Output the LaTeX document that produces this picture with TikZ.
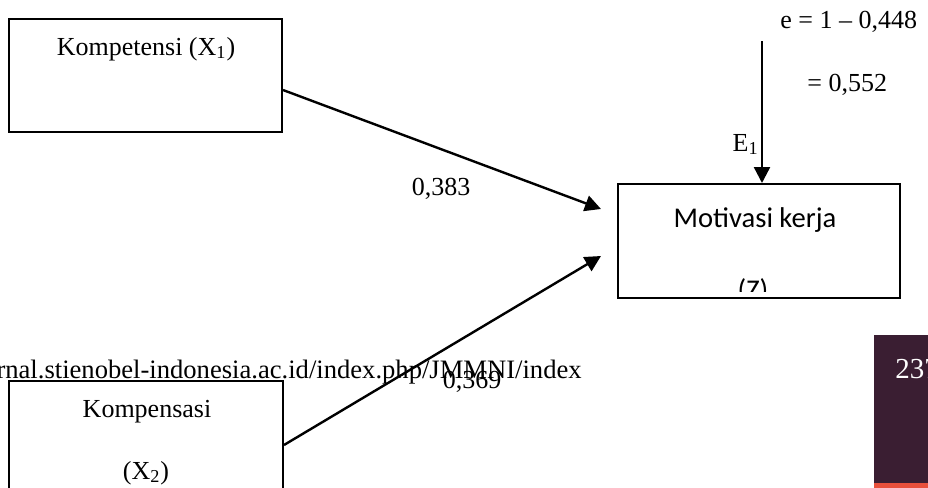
\documentclass[tikz,border=0pt]{standalone}
\usepackage{fontspec}
\setmainfont{Liberation Serif}
\newfontfamily\calib{Carlito}
\usetikzlibrary{arrows.meta,calc}
\definecolor{pagebar}{RGB}{58,30,50}
\definecolor{pagered}{RGB}{232,80,60}
\begin{document}
\begin{tikzpicture}[x=0.5pt,y=-0.5pt,
  box/.style={draw,line width=1pt,inner sep=0pt,rectangle},
  txt/.style={inner sep=0pt,anchor=base,font=\fontsize{13}{15}\selectfont},
  mtxt/.style={inner sep=0pt,anchor=base,font=\calib\fontsize{14.3}{17}\selectfont},
  arr/.style={line width=1.2pt,-{Triangle[length=8pt,width=8pt]}}]
\useasboundingbox (0,0) rectangle (928,488);
\begin{scope}
\clip (0,0) rectangle (928,488);
% boxes
\node[box,minimum width=136.5pt,minimum height=56.5pt] (k1) at (145.5,75.5) {};
\node[box,minimum width=141pt,minimum height=57pt] (mot) at (759,241) {};
\node[box,minimum width=137pt,minimum height=89pt] (k2) at (146,470) {};
% box texts
\node[txt] (k1lab) at (146,55) {Kompetensi (X\textsubscript{1})};
\node[mtxt] (motlab) at (755,227) {Motivasi kerja};
\begin{scope}
\clip (619,185) rectangle (899,291);
\node[mtxt] (zlab) at (753,299) {(Z)};
\end{scope}
\node[txt] (k2lab) at (147,417) {Kompensasi};
\node[txt] (x2lab) at (146,479) {(X\textsubscript{2})};
% footer
\node[txt,anchor=base east,font=\fontsize{13.3}{15}\selectfont] (url) at (582,378) {journal.stienobel-indonesia.ac.id/index.php/JMMNI/index};
\fill[pagebar] (874,335) rectangle (928,483);
\fill[pagered] (874,483) rectangle (928,488);
\node[inner sep=0pt,anchor=base west,text=white,font=\fontsize{14.5}{17}\selectfont] (pnum) at (895,378) {237};
% connectors
\coordinate (t1) at ($(mot.west)+(-16,-32)$);
\coordinate (t2) at ($(mot.west)+(-16,15)$);
\coordinate (s1) at ($(k1.east)+(0,14.5)$);
\coordinate (s2) at ($(k2.east)+(0,-25)$);
\coordinate (etop) at ($(mot.north)+(3,-142)$);
\coordinate (ebot) at ($(mot.north)+(3,0)$);
\draw[arr] (s1) -- (t1);
\draw[arr] (s2) -- (t2);
\draw[arr] (etop) -- (ebot);
% labels
\node[txt] (l1) at (441,195) {0,383};
\node[txt] (l2) at (472,388) {0,369};
\node[txt,anchor=base east] (elab) at (759,151) {E\textsubscript{1}};
\node[txt,anchor=base west] (eq1) at (780,28) {e = 1 – 0,448};
\node[txt,anchor=base west] (eq2) at (807,91) {= 0,552};
\end{scope}
\end{tikzpicture}
\end{document}
